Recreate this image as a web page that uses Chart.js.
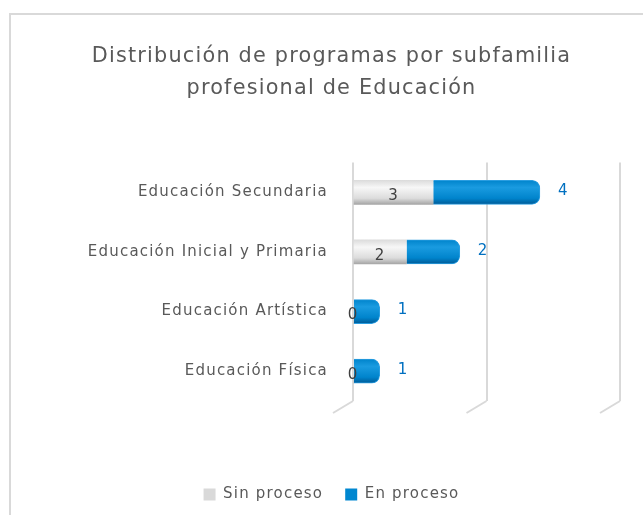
<!DOCTYPE html>
<html>
<head>
<meta charset="utf-8">
<script src="https://cdn.jsdelivr.net/npm/chart.js@4"></script>
<style>
  html, body { margin: 0; padding: 0; background: #fff; overflow: hidden; }
  #wrap { position: relative; width: 643px; height: 515px; }
  #frame { position: absolute; left: 9px; top: 13px; width: 700px; height: 600px; border: 2px solid #d9d9d9; box-sizing: border-box; }
  canvas { position: absolute; left: 0; top: 0; }
</style>
</head>
<body>
<div id="wrap">
  <div id="frame"></div>
  <canvas id="barChart" width="643" height="515"></canvas>
</div>
<script>
// data
var categories = ["Educación Secundaria", "Educación Inicial y Primaria", "Educación Artística", "Educación Física"];
var sinProceso = [3, 2, 0, 0];
var enProceso = [4, 2, 1, 1];
var xTicks = [0, 5, 10];

var textGrey = "#595959";
var fontFam = "'DejaVu Sans'";

// cylinder look: vertical gradient across each bar
function cylinder(light, mid, dark) {
    return function (ctx) {
        var chart = ctx.chart;
        var y = chart.scales.y;
        if (!y || ctx.dataIndex === undefined) return mid;
        var c = y.getPixelForValue(ctx.dataIndex);
        var g = chart.ctx.createLinearGradient(0, c - 12, 0, c + 12);
        g.addColorStop(0, mid);
        g.addColorStop(0.3, light);
        g.addColorStop(0.75, mid);
        g.addColorStop(1, dark);
        return g;
    };
}

// wider type, a bit closer to the original face
var spacing = {
    id: "spacing",
    beforeUpdate: function (chart) { chart.ctx.letterSpacing = "1.2px"; },
    beforeDraw: function (chart) { chart.ctx.letterSpacing = "1.2px"; }
};

// little slanted feet under the grid lines (3D floor)
var gridFeet = {
    id: "gridFeet",
    beforeDatasetsDraw: function (chart) {
        var ctx = chart.ctx, x = chart.scales.x, b = chart.chartArea.bottom;
        ctx.save();
        ctx.strokeStyle = "#d9d9d9";
        ctx.lineWidth = 2;
        xTicks.forEach(function (v) {
            var px = x.getPixelForValue(v);
            ctx.beginPath();
            ctx.moveTo(px, b);
            ctx.lineTo(px - 20, b + 12);
            ctx.stroke();
        });
        ctx.restore();
    }
};

// value labels, drawn by hand
var valueLabels = {
    id: "valueLabels",
    afterDatasetsDraw: function (chart) {
        var ctx = chart.ctx;
        ctx.save();
        ctx.font = "15px " + fontFam;
        ctx.textBaseline = "middle";
        var m0 = chart.getDatasetMeta(0);
        var m1 = chart.getDatasetMeta(1);
        m0.data.forEach(function (bar, i) {
            ctx.fillStyle = "#404040";
            ctx.textAlign = "center";
            var x = sinProceso[i] === 0 ? bar.base : (bar.x + bar.base) / 2;
            ctx.fillText(sinProceso[i], x, bar.y + 4);
        });
        m1.data.forEach(function (bar, i) {
            ctx.fillStyle = "#0070c0";
            ctx.textAlign = "left";
            ctx.fillText(enProceso[i], bar.x + 18, bar.y - 1);
        });
        ctx.restore();
    }
};

new Chart(document.getElementById("barChart"), {
    type: "bar",
    data: {
        labels: categories,
        datasets: [{
            label: "Sin proceso",
            data: sinProceso,
            backgroundColor: cylinder("#f7f7f7", "#dcdcdc", "#a6a6a6"),
            borderWidth: 0,
            barThickness: 24
        }, {
            label: "En proceso",
            data: enProceso,
            backgroundColor: cylinder("#1a9be0", "#0084cc", "#005a96"),
            borderColor: "#2a9de0",
            borderWidth: 1,
            borderRadius: { topRight: 8, bottomRight: 8 },
            borderSkipped: "left",
            barThickness: 24
        }]
    },
    options: {
        responsive: false,
        animation: false,
        indexAxis: "y",
        layout: { padding: { left: 43, right: 23, top: 14, bottom: 3 } },
        scales: {
            x: {
                stacked: true,
                min: xTicks[0],
                max: xTicks[xTicks.length - 1],
                afterBuildTicks: function (s) { s.ticks = xTicks.map(function (v) { return { value: v }; }); },
                ticks: { display: false },
                grid: { color: "#d9d9d9", lineWidth: 2, drawTicks: false },
                border: { display: false },
                afterFit: function (s) { s.height = 64; }
            },
            y: {
                stacked: true,
                grid: { display: false },
                border: { display: false },
                ticks: { color: textGrey, font: { family: fontFam, size: 15 }, padding: 17 },
                afterFit: function (s) { s.width = 310; }
            }
        },
        plugins: {
            title: {
                display: true,
                text: ["Distribución de programas por subfamilia", "profesional de Educación"],
                color: textGrey,
                font: { family: fontFam, size: 20.8, weight: "normal", lineHeight: 1.55 },
                padding: { top: 26, bottom: 58 }
            },
            legend: {
                position: "bottom",
                labels: {
                    color: textGrey,
                    font: { family: fontFam, size: 15 },
                    boxWidth: 12,
                    boxHeight: 12,
                    padding: 22,
                    generateLabels: function (chart) {
                        var fills = ["#d9d9d9", "#0087d0"];
                        return chart.data.datasets.map(function (ds, i) {
                            return { text: ds.label, fillStyle: fills[i], strokeStyle: fills[i], lineWidth: 0, datasetIndex: i, fontColor: textGrey };
                        });
                    }
                }
            },
            tooltip: { enabled: false }
        }
    },
    plugins: [spacing, gridFeet, valueLabels]
});
</script>
</body>
</html>
